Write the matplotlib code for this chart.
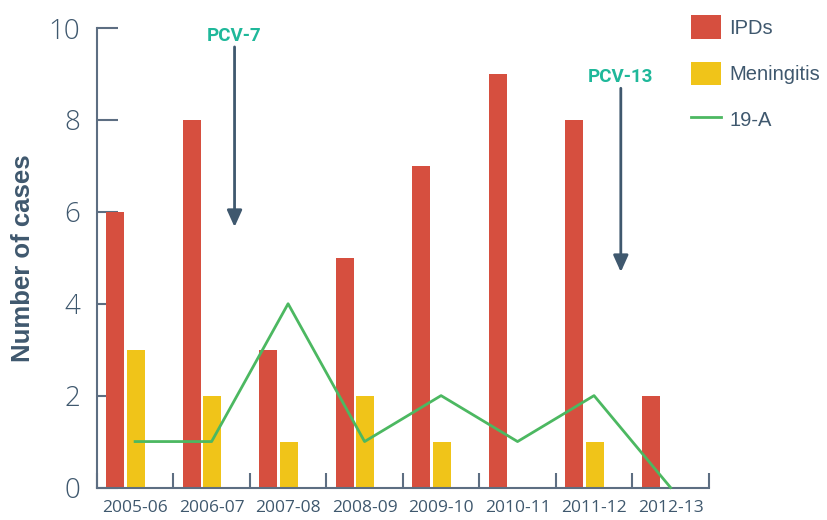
import numpy as np
import matplotlib
matplotlib.use("Agg")
import matplotlib.pyplot as plt

seasons = ["2005-06", "2006-07", "2007-08", "2008-09", "2009-10", "2010-11", "2011-12", "2012-13"]
ipds = [6, 8, 3, 5, 7, 9, 8, 2]
meningitis = [3, 2, 1, 2, 1, 0, 1, 0]
sero_19a = [1, 1, 4, 1, 2, 1, 2, 0]

# vaccine introductions: (label, x position, arrow top, arrow tip)
vaccines = [("PCV-7", 1.30, 9.59, 5.67), ("PCV-13", 6.35, 8.69, 4.69)]

red = "#d64f3f"
yellow = "#f0c419"
green = "#4cb861"
teal = "#1fb89a"
slate = "#3f586e"
axis_col = "#5d6e82"

plt.rcParams['font.family'] = ['Open Sans', 'DejaVu Sans']

fig = plt.figure(figsize=(8.28, 5.20), dpi=100)
ax = fig.add_axes([0.117, 0.0625, 0.739, 0.8835])

x = np.arange(len(seasons))
w = 0.235
b1 = ax.bar(x - 0.26, ipds, w, color=red, label="IPDs", zorder=2)
b2 = ax.bar(x + 0.01, meningitis, w, color=yellow, label="Meningitis", zorder=2)
l1, = ax.plot(x, sero_19a, color=green, lw=2.0, label="19-A", zorder=3, clip_on=False)

for name, xv, top, tip in vaccines:
    ax.annotate("", xy=(xv, tip), xytext=(xv, top),
                arrowprops=dict(arrowstyle="-|>,head_width=0.45,head_length=1.0",
                                color=slate, lw=2.0, shrinkA=0, shrinkB=0))
    ax.text(xv, top + 0.04, name, color=teal, fontsize=13.5, fontweight="bold",
            family=["Roboto", "DejaVu Sans"], ha="center", va="bottom")

ax.set_xlim(-0.5, len(seasons) - 0.5)
ax.set_ylim(0, 10)

# category ticks on the boundaries, labels in the middle
ax.set_xticks(np.arange(len(seasons) + 1) - 0.5)
ax.set_xticklabels([])
ax.set_xticks(x, minor=True)
ax.set_xticklabels(seasons, minor=True)
ax.tick_params(axis="x", which="major", direction="in", length=11, width=1.5, color=axis_col)
ax.tick_params(axis="x", which="minor", length=0, pad=9, labelsize=12.5, labelcolor=slate)

ax.set_yticks([0, 2, 4, 6, 8, 10])
ax.tick_params(axis="y", direction="in", length=15, width=1.5, color=axis_col,
               labelsize=20, labelcolor=slate, pad=12)
for lab in ax.get_yticklabels():
    lab.set_fontweight("light")

for side in ["top", "right"]:
    ax.spines[side].set_visible(False)
for side in ["left", "bottom"]:
    ax.spines[side].set_color(axis_col)
    ax.spines[side].set_linewidth(1.5)

ax.set_ylabel("Number of cases", fontsize=18.5, fontweight="bold", color=slate,
              family=["Liberation Sans", "DejaVu Sans"], labelpad=10)

ax.legend([b1, b2, l1], ["IPDs", "Meningitis", "19-A"],
          loc="upper left", bbox_to_anchor=(0.958, 1.045), frameon=False,
          prop={"family": ["Liberation Sans", "DejaVu Sans"], "size": 14.5},
          handlelength=1.5, handleheight=1.45, labelspacing=1.1,
          handletextpad=0.4, labelcolor=slate, borderaxespad=0)

fig.savefig("out.png", dpi=100)
